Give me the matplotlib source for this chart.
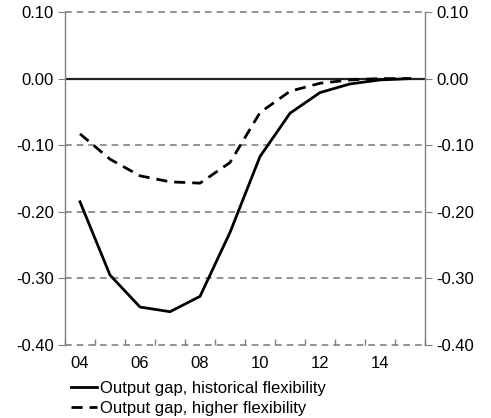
import matplotlib
matplotlib.use("Agg")
import matplotlib.pyplot as plt
from matplotlib.ticker import FixedLocator, NullFormatter

plt.rcParams['font.family'] = ['Liberation Sans', 'DejaVu Sans']

years = ["04", "05", "06", "07", "08", "09", "10", "11", "12", "13", "14", "15"]
hist_flex = [-0.185, -0.295, -0.343, -0.350, -0.327, -0.231, -0.117, -0.052, -0.021, -0.008, -0.002, 0.000]
high_flex = [-0.083, -0.121, -0.146, -0.155, -0.157, -0.126, -0.051, -0.019, -0.007, -0.002, 0.000, 0.000]
yticks = [0.10, 0.00, -0.10, -0.20, -0.30, -0.40]

fig = plt.figure(figsize=(4.91, 4.18), dpi=100)
ax = fig.add_axes([65/491, (418-345)/418, (425-65)/491, (345-12)/418])

x = list(range(len(years)))
grid_col = '#808080'
for yv in yticks:
    if abs(yv) < 1e-9:
        ax.axhline(yv, color='#222222', lw=1.6, zorder=1)
    else:
        ax.axhline(yv, color=grid_col, lw=1.2, ls=(0, (4, 3)), zorder=1, clip_on=False)

ax.plot(x, hist_flex, color='black', lw=2, solid_joinstyle='miter', zorder=3,
        label='Output gap, historical flexibility')
ax.plot(x, high_flex, color='black', lw=2, ls=(0, (4, 2.5)), zorder=3,
        label='Output gap, higher flexibility')

ax.set_xlim(-0.5, len(years) - 0.5)
ax.set_ylim(-0.40, 0.10)

ax.set_yticks(yticks)
ax.set_yticklabels([f"{v:.2f}" for v in yticks])
ax.tick_params(axis='y', which='both', left=True, right=True, labelleft=True,
               labelright=True, direction='out', length=5, color=grid_col,
               labelsize=12, pad=3)

ax.set_xticks(x[::2])
ax.set_xticklabels(years[::2])
ax.xaxis.set_minor_locator(FixedLocator([i - 0.5 for i in range(len(years) + 1)]))
ax.xaxis.set_minor_formatter(NullFormatter())
ax.tick_params(axis='x', which='major', length=0, labelsize=12, pad=8)
ax.tick_params(axis='x', which='minor', direction='in', length=4, color=grid_col, width=1)

for s in ['top', 'bottom']:
    ax.spines[s].set_visible(False)
for s in ['left', 'right']:
    ax.spines[s].set_color(grid_col)
    ax.spines[s].set_linewidth(1)

fig.legend(loc='upper left', bbox_to_anchor=(71/491, 1 - 381/418), frameon=False,
           fontsize=12, handlelength=1.55, handletextpad=0.2, labelspacing=0.3,
           borderaxespad=0, borderpad=0)

fig.savefig('out.png', dpi=100)
